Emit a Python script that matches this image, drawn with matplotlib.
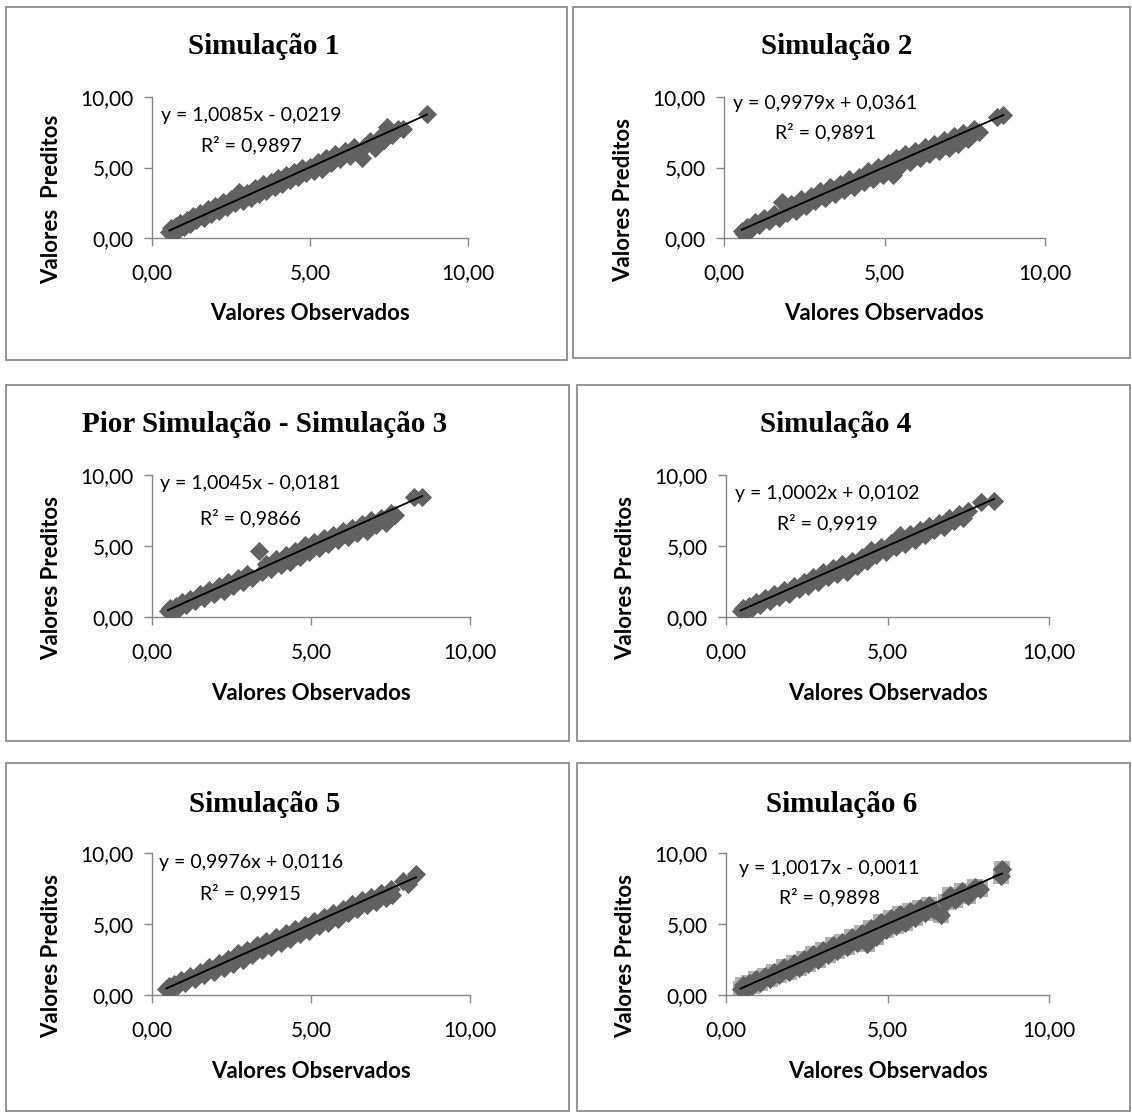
import numpy as np
import matplotlib
matplotlib.use("Agg")
import matplotlib.pyplot as plt
from matplotlib.patches import Rectangle
from matplotlib.ticker import FuncFormatter

W, H = 1132, 1113

titles = ["Simulação 1", "Simulação 2", "Pior Simulação - Simulação 3",
          "Simulação 4", "Simulação 5", "Simulação 6"]
ylabels = ["Valores  Preditos", "Valores Preditos", "Valores Preditos",
           "Valores Preditos", "Valores Preditos", "Valores Preditos"]
slopes = [1.0085, 0.9979, 1.0045, 1.0002, 0.9976, 1.0017]
intercepts = [-0.0219, 0.0361, -0.0181, 0.0102, 0.0116, -0.0011]
r2 = [0.9897, 0.9891, 0.9866, 0.9919, 0.9915, 0.9898]

obs1 = [0.55, 0.60, 0.68, 0.75, 0.82, 0.90, 1.00, 1.10, 1.20, 1.30,
        1.40, 1.52, 1.64, 1.76, 1.88, 2.00, 2.12, 2.25, 2.38, 2.50,
        2.62, 2.75, 2.88, 3.00, 3.12, 3.25, 3.38, 3.50, 3.62, 3.75,
        3.88, 4.00, 4.12, 4.25, 4.38, 4.50, 4.62, 4.75, 4.88, 5.00,
        5.12, 5.25, 5.38, 5.50, 5.65, 5.80, 5.95, 6.10, 6.25, 6.40,
        6.55, 6.65, 6.75, 6.90, 7.05, 7.20, 7.35, 7.45, 7.60, 7.80,
        7.95, 8.70]
pred1 = [0.45, 0.70, 0.35, 0.85, 0.60, 1.05, 0.80, 1.30, 1.00, 1.55,
         1.25, 1.75, 1.45, 2.05, 1.70, 2.30, 1.95, 2.55, 2.20, 2.80,
         2.45, 3.25, 2.65, 3.20, 2.85, 3.55, 3.10, 3.80, 3.35, 4.00,
         3.60, 4.25, 3.85, 4.45, 4.10, 4.70, 4.35, 4.95, 4.60, 5.05,
         4.75, 5.40, 4.90, 5.70, 5.35, 5.95, 5.60, 6.20, 5.85, 6.45,
         6.10, 5.70, 6.55, 6.90, 6.40, 7.15, 6.95, 7.90, 7.30, 7.75,
         7.70, 8.80]

obs2 = [0.55, 0.62, 0.72, 0.85, 0.98, 1.10, 1.25, 1.40, 1.55, 1.70,
        1.80, 1.95, 2.10, 2.25, 2.40, 2.55, 2.70, 2.85, 3.00, 3.15,
        3.30, 3.45, 3.60, 3.75, 3.90, 4.05, 4.20, 4.35, 4.50, 4.65,
        4.80, 4.95, 5.10, 5.25, 5.35, 5.50, 5.65, 5.80, 5.95, 6.10,
        6.25, 6.40, 6.55, 6.70, 6.85, 7.00, 7.15, 7.30, 7.45, 7.60,
        7.80, 7.95, 8.50, 8.70]
pred2 = [0.50, 0.30, 0.80, 0.65, 1.15, 0.90, 1.45, 1.20, 1.70, 1.45,
         2.55, 1.75, 2.40, 1.95, 2.75, 2.30, 2.95, 2.60, 3.35, 2.85,
         3.60, 3.15, 3.85, 3.40, 4.15, 3.65, 4.35, 3.95, 4.75, 4.20,
         5.05, 4.45, 5.30, 4.50, 5.70, 5.20, 5.95, 5.40, 6.20, 5.70,
         6.45, 5.95, 6.65, 6.20, 6.95, 6.40, 7.25, 6.70, 7.45, 7.00,
         7.70, 7.50, 8.55, 8.70]

obs3 = [0.50, 0.58, 0.66, 0.75, 0.85, 0.95, 1.08, 1.20, 1.35, 1.50,
        1.65, 1.80, 1.95, 2.10, 2.25, 2.40, 2.55, 2.70, 2.85, 3.00,
        3.15, 3.35, 3.45, 3.60, 3.75, 3.90, 4.05, 4.20, 4.35, 4.50,
        4.65, 4.80, 4.95, 5.10, 5.25, 5.40, 5.55, 5.70, 5.85, 6.00,
        6.15, 6.30, 6.45, 6.60, 6.75, 6.90, 7.05, 7.20, 7.35, 7.50,
        7.65, 8.25, 8.50]
pred3 = [0.40, 0.65, 0.35, 0.80, 0.60, 1.05, 0.85, 1.30, 1.10, 1.60,
         1.35, 1.90, 1.60, 2.20, 1.85, 2.50, 2.15, 2.75, 2.45, 3.00,
         2.75, 4.65, 3.15, 3.75, 3.35, 4.05, 3.65, 4.35, 3.90, 4.65,
         4.20, 5.10, 4.55, 5.25, 4.85, 5.55, 5.15, 5.80, 5.40, 6.05,
         5.65, 6.30, 5.95, 6.55, 6.05, 6.80, 6.45, 7.00, 6.65, 7.35,
         7.15, 8.45, 8.45]

obs4 = [0.45, 0.52, 0.60, 0.70, 0.80, 0.92, 1.05, 1.20, 1.35, 1.50,
        1.65, 1.80, 1.95, 2.10, 2.25, 2.40, 2.55, 2.70, 2.85, 3.00,
        3.15, 3.30, 3.45, 3.60, 3.75, 3.90, 4.05, 4.20, 4.35, 4.50,
        4.65, 4.80, 4.95, 5.10, 5.25, 5.40, 5.55, 5.70, 5.85, 6.00,
        6.15, 6.30, 6.45, 6.60, 6.75, 6.90, 7.05, 7.20, 7.35, 7.50,
        7.90, 8.30]
pred4 = [0.40, 0.65, 0.35, 0.80, 0.60, 1.05, 0.85, 1.35, 1.10, 1.60,
         1.40, 1.90, 1.65, 2.20, 1.95, 2.50, 2.20, 2.80, 2.50, 3.20,
         2.85, 3.45, 3.05, 3.75, 3.20, 3.95, 3.60, 4.25, 3.95, 4.70,
         4.40, 4.95, 4.55, 5.20, 4.90, 5.75, 5.15, 5.85, 5.45, 6.10,
         5.80, 6.40, 6.15, 6.65, 6.35, 6.95, 6.75, 7.25, 6.95, 7.45,
         8.10, 8.20]

obs5 = [0.45, 0.52, 0.60, 0.70, 0.80, 0.92, 1.05, 1.20, 1.35, 1.50,
        1.65, 1.80, 1.95, 2.10, 2.25, 2.40, 2.55, 2.70, 2.85, 3.00,
        3.15, 3.30, 3.45, 3.60, 3.75, 3.90, 4.05, 4.20, 4.35, 4.50,
        4.65, 4.80, 4.95, 5.10, 5.25, 5.40, 5.55, 5.70, 5.85, 6.00,
        6.15, 6.30, 6.45, 6.60, 6.75, 6.90, 7.05, 7.20, 7.35, 7.50,
        7.55, 7.90, 8.05, 8.30]
pred5 = [0.40, 0.65, 0.35, 0.80, 0.60, 1.05, 0.85, 1.35, 1.10, 1.65,
         1.40, 1.95, 1.60, 2.25, 1.90, 2.55, 2.20, 2.95, 2.45, 3.15,
         2.80, 3.50, 3.15, 3.80, 3.40, 4.10, 3.65, 4.40, 3.95, 4.65,
         4.30, 4.90, 4.50, 5.20, 4.85, 5.50, 5.10, 5.75, 5.35, 6.05,
         5.80, 6.40, 6.05, 6.70, 6.35, 6.90, 6.55, 7.20, 6.85, 7.45,
         7.05, 8.05, 7.80, 8.50]

obs6 = [0.45, 0.52, 0.60, 0.70, 0.80, 0.92, 1.05, 1.20, 1.35, 1.50,
        1.65, 1.80, 1.95, 2.10, 2.25, 2.40, 2.55, 2.70, 2.85, 3.00,
        3.15, 3.30, 3.45, 3.60, 3.75, 3.90, 4.05, 4.20, 4.35, 4.50,
        4.65, 4.80, 4.95, 5.10, 5.25, 5.40, 5.55, 5.70, 5.85, 6.00,
        6.15, 6.30, 6.45, 6.65, 6.80, 6.95, 7.10, 7.30, 7.50, 7.70,
        7.85, 8.50, 8.55]
pred6 = [0.45, 0.70, 0.35, 0.85, 0.60, 1.10, 0.85, 1.35, 1.10, 1.65,
         1.40, 1.95, 1.65, 2.25, 1.90, 2.55, 2.20, 2.90, 2.45, 3.20,
         2.80, 3.50, 3.10, 3.75, 3.35, 4.05, 3.65, 4.35, 3.60, 4.70,
         4.05, 5.15, 4.55, 5.40, 4.85, 5.70, 5.05, 5.90, 5.45, 6.10,
         5.75, 6.35, 6.00, 5.60, 6.55, 7.05, 6.70, 7.30, 7.00, 7.60,
         7.50, 8.40, 8.90]

observed = [obs1, obs2, obs3, obs4, obs5, obs6]
predicted = [pred1, pred2, pred3, pred4, pred5, pred6]
ticks = [0, 5, 10]

# layout in pixels: axes box (left, right, top, bottom), title centre, panel border
axes_px = [(152, 468, 97, 238), (724, 1045, 97, 238),
           (152, 470, 475, 617), (726, 1049, 475, 617),
           (152, 470, 853, 995), (726, 1049, 853, 995)]
title_px = [(264, 47), (837, 47), (265, 425), (836, 425), (265, 805), (842, 805)]
eq_pos = [(3.15, 8.7, 6.6), (3.15, 9.55, 7.5), (3.1, 9.4, 7.0),
          (3.15, 8.7, 6.6), (3.1, 9.3, 7.2), (3.2, 8.9, 6.9)]
border_px = [(6, 7, 567, 360), (573, 7, 1130, 358),
             (6, 385, 569, 741), (577, 385, 1130, 741),
             (6, 763, 569, 1111), (577, 763, 1130, 1111)]

grey = "#868686"
tick_font = "Lato"

fig = plt.figure(figsize=(W / 100, H / 100), dpi=100)

for x0, y0, x1, y1 in border_px:
    fig.patches.append(Rectangle((x0 / W, 1 - y1 / H), (x1 - x0) / W, (y1 - y0) / H,
                                 transform=fig.transFigure, fill=False,
                                 edgecolor="#8c8c8c", linewidth=1.3))

fmt = FuncFormatter(lambda v, p: f"{v:.2f}".replace(".", ","))

for i in range(6):
    l, r, t, b = axes_px[i]
    ax = fig.add_axes([l / W, 1 - b / H, (r - l) / W, (b - t) / H])
    x = np.array(observed[i])
    y = np.array(predicted[i])
    if i == 5:
        ax.scatter(x, y, marker="s", s=135, color="#b0b0b0", linewidths=0, zorder=2)
    ax.scatter(x, y, marker="D", s=95, color="#616161", linewidths=0, zorder=3)
    xl = np.array([x.min(), x.max()])
    ax.plot(xl, slopes[i] * xl + intercepts[i], color="black", lw=1.3, zorder=4)

    ax.set_xlim(0, 10)
    ax.set_ylim(0, 10)
    ax.set_xticks(ticks)
    ax.set_yticks(ticks)
    ax.xaxis.set_major_formatter(fmt)
    ax.yaxis.set_major_formatter(fmt)
    for s in ["top", "right"]:
        ax.spines[s].set_visible(False)
    for s in ["left", "bottom"]:
        ax.spines[s].set_color(grey)
        ax.spines[s].set_linewidth(1.0)
    ax.tick_params(axis="both", direction="out", length=6, width=1, color=grey,
                   labelsize=15)
    ax.tick_params(axis="x", pad=12)
    ax.tick_params(axis="y", pad=7)
    for lab in ax.get_xticklabels() + ax.get_yticklabels():
        lab.set_fontfamily(tick_font)
    ax.patch.set_alpha(0)

    cx, ey, ry = eq_pos[i]
    sign = "+" if intercepts[i] >= 0 else "-"
    eq = f"y = {slopes[i]:.4f}x {sign} {abs(intercepts[i]):.4f}".replace(".", ",")
    ax.text(cx, ey, eq, ha="center", va="center", fontsize=14, family=tick_font)
    ax.text(cx, ry, f"R² = {r2[i]:.4f}".replace(".", ","), ha="center", va="center",
            fontsize=14, family=tick_font)

    tx, ty = title_px[i]
    fig.text(tx / W, 1 - ty / H, titles[i], ha="center", va="center",
             fontsize=21, fontweight="bold", family="Liberation Serif")

    # axis titles
    fig.text(((l + r) / 2) / W, 1 - (b + 76) / H, "Valores Observados",
             ha="center", va="center", fontsize=16, fontweight="bold", family=tick_font)
    fig.text((l - 100) / W, 1 - ((t + b) / 2 + 32) / H, ylabels[i],
             ha="center", va="center", rotation=90, fontsize=16,
             fontweight="bold", family=tick_font)

fig.savefig("out.png", dpi=100)
